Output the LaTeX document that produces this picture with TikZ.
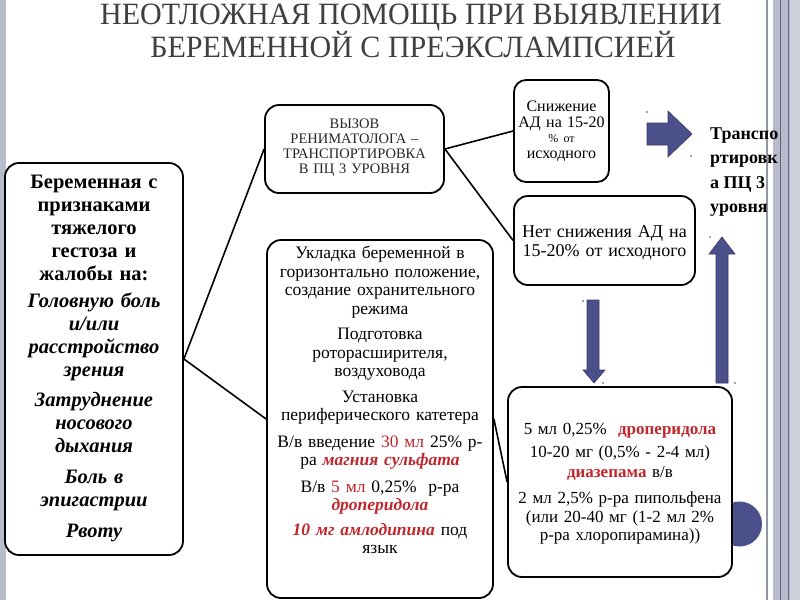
\documentclass[tikz,border=0pt]{standalone}
\usepackage{fontspec}
\usepackage{graphicx}
\setmainfont{Liberation Serif}
\usetikzlibrary{calc}
\definecolor{myred}{RGB}{192,39,45}
\definecolor{arrowblue}{RGB}{75,79,138}
\definecolor{arrowedge}{RGB}{55,58,105}
\definecolor{stripe}{RGB}{184,187,204}
\definecolor{stripedark}{RGB}{95,99,130}
\definecolor{titlegray}{RGB}{64,64,64}
\newcommand{\rd}[1]{\textcolor{myred}{#1}}
\newcommand{\rdbi}[1]{\textcolor{myred}{\bfseries\itshape #1}}
\newcommand{\rdb}[1]{\textcolor{myred}{\bfseries #1}}
\begin{document}
\begin{tikzpicture}[x=1pt,y=-1pt,
  box/.style={draw=black, line width=1.8pt, rounded corners=14pt, fill=white, inner sep=0pt},
  boxtext/.style={align=center, inner sep=0pt},
  conn/.style={line width=1.6pt},
  barrow/.style={fill=arrowblue, draw=arrowedge, line width=0.6pt},
  dot/.style={fill=black!70, draw=none},
  titletext/.style={anchor=base, text=titlegray, font=\fontsize{31}{34}\selectfont, inner sep=0pt}]
\useasboundingbox (0,0) rectangle (800,600);
\fill[white] (0,0) rectangle (800,600);
% side stripes
\fill[stripe] (0,0) rectangle (6,600);
\fill[stripe!80!black] (766,0) rectangle (768,600);
\fill[stripe] (773,0) rectangle (800,600);
\fill[stripe!70!white] (790,0) rectangle (800,600);
\fill[stripedark] (780,0) rectangle (781,600);
\fill[stripedark] (788,0) rectangle (789,600);
% title
\node[titletext] (title1) at (411,24.5) {\scalebox{0.97}[1]{НЕОТЛОЖНАЯ ПОМОЩЬ ПРИ ВЫЯВЛЕНИИ}};
\node[titletext] (title2) at (413,57) {\scalebox{0.97}[1]{БЕРЕМЕННОЙ С ПРЕЭКСЛАМПСИЕЙ}};
% decorative circle
\fill[arrowblue] (739.5,524) circle (22.5);
% boxes
\node[box, minimum width=178pt, minimum height=392pt] (left) at (94,359) {};
\node[boxtext, text width=176pt, font=\fontsize{20.5}{23}\selectfont\bfseries] (lefttext) at (94,358)
 {Беременная с\\признаками\\тяжелого\\гестоза и\\жалобы на:\\[4pt]
 \itshape Головную боль\\и/или\\расстройство\\зрения\\[7pt]
 Затруднение\\носового\\дыхания\\[8pt]
 Боль в\\эпигастрии\\[8pt]
 Рвоту};
\node[box, minimum width=179pt, minimum height=88pt] (vyzov) at (354.5,149) {};
\node[boxtext, text width=177pt, text=black!85, font=\fontsize{14.5}{15}\selectfont] (vyzovtext) at (354.5,148)
 {ВЫЗОВ\\РЕНИМАТОЛОГА –\\ТРАНСПОРТИРОВКА\\В ПЦ 3 УРОВНЯ};
\node[box, rounded corners=12pt, minimum width=95pt, minimum height=102pt] (snizh) at (561.5,131) {};
\node[boxtext, text width=94pt, font=\fontsize{16}{15.5}\selectfont] (snizhtext) at (561.5,131)
 {Снижение\\АД на 15-20\\{\fontsize{12}{15.5}\selectfont\% от}\\исходного};
\node[box, minimum width=181pt, minimum height=89pt] (net) at (604.5,240.5) {};
\node[boxtext, text width=179pt, font=\fontsize{18}{18.5}\selectfont] (nettext) at (604.5,243)
 {Нет снижения АД на\\15-20\% от исходного};
\node[box, minimum width=226pt, minimum height=358pt] (uklad) at (380,419) {};
\node[boxtext, text width=224pt, font=\fontsize{17.5}{18.5}\selectfont] (ukladtext) at (380,400)
 {Укладка беременной в\\горизонтально положение,\\создание охранительного\\режима\\[7pt]
 Подготовка\\роторасширителя,\\воздуховода\\[7pt]
 Установка\\периферического катетера\\[8pt]
 В/в введение \rd{30 мл} 25\% р-\\ра \rdbi{магния сульфата}\\[8pt]
 В/в \rd{5 мл} 0,25\%~ р-ра\\\rdbi{дроперидола}\\[6pt]
 \rdbi{10 мг амлодипина} под\\язык};
\node[box, minimum width=224pt, minimum height=190pt] (drugs) at (620,482) {};
\node[boxtext, text width=222pt, font=\fontsize{17}{18.5}\selectfont] (drugstext) at (620,484)
 {5 мл 0,25\%~ \rdb{дроперидола}\\[4pt]
 10-20 мг (0,5\% - 2-4 мл)\\[1.5pt]\rdb{диазепама} в/в\\[8pt]
 2 мл 2,5\% р-ра пипольфена\\(или 20-40 мг (1-2 мл 2\%\\р-ра хлоропирамина))};
% right text
\node[anchor=west, align=left, inner sep=0pt, font=\fontsize{18}{24.5}\selectfont\bfseries] (transp) at (710,172)
 {Транспо\\ртировк\\а ПЦ 3\\уровня};
% connectors
\draw[conn] (left.east) -- (vyzov.west);
\draw[conn] (left.east) -- (uklad.west);
\draw[conn] (vyzov.east) -- (snizh.west);
\draw[conn] (vyzov.east) -- (net.west);
\draw[conn] (uklad.east) -- (drugs.west);
% block arrows
\filldraw[barrow] (647,123) -- (668,123) -- (668,111) -- (692,134) -- (668,157) -- (668,145) -- (647,145) -- cycle;
\filldraw[barrow] (587,300) -- (599,300) -- (599,370) -- (605,370) -- (594,383) -- (583,370) -- (587,370) -- cycle;
\filldraw[barrow] (716,383) -- (716,254) -- (709,254) -- (722,237) -- (735,254) -- (728,254) -- (728,383) -- cycle;
% small marker dots
\foreach \p in {(647,112),(691,156),(710,237),(583,301),(603,383),(735,383)}
  \fill[dot] \p circle (0.9);
\end{tikzpicture}
\end{document}
